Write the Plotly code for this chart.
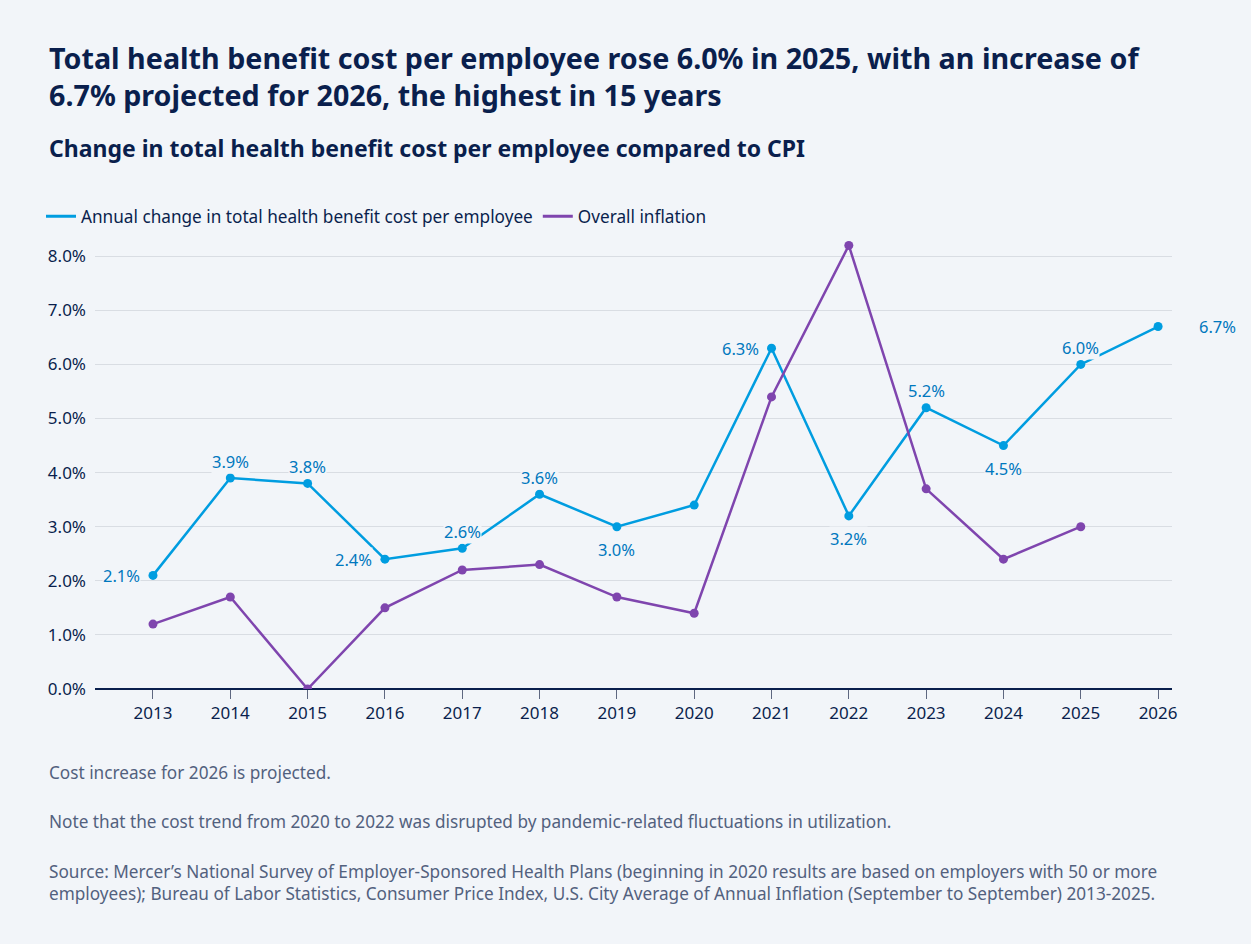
import plotly.graph_objects as go

years = [str(y) for y in range(2013, 2027)]
health_cost = [2.1, 3.9, 3.8, 2.4, 2.6, 3.6, 3.0, 3.4, 6.3, 3.2, 5.2, 4.5, 6.0, 6.7]
inflation = [1.2, 1.7, 0.0, 1.5, 2.2, 2.3, 1.7, 1.4, 5.4, 8.2, 3.7, 2.4, 3.0]
y_ticks = [0, 1, 2, 3, 4, 5, 6, 7, 8]

# where each cost label sits relative to its point (None = no label)
label_side = ["left", "top", "top", "left", "top", "top", "bottom", None,
              "left", "bottom", "top", "bottom", "top", "right"]

BG = "#F2F5F9"
NAVY = "#0A1F4D"
BLUE = "#009DE0"
BLUE_TEXT = "#0078BE"
PURPLE = "#7F45AE"
NOTE = "#52617E"
FONT = "Noto Sans"

fig = go.Figure()
fig.add_trace(go.Scatter(
    x=years, y=health_cost, mode="lines+markers", showlegend=False,
    line=dict(color=BLUE, width=2.5), marker=dict(size=9, color=BLUE),
))
fig.add_trace(go.Scatter(
    x=years[:len(inflation)], y=inflation, mode="lines+markers", showlegend=False,
    line=dict(color=PURPLE, width=2.5), marker=dict(size=9, color=PURPLE),
))
# legend entries show only a line swatch
for name, color in [("Annual change in total health benefit cost per employee", BLUE),
                    ("Overall inflation", PURPLE)]:
    fig.add_trace(go.Scatter(x=[None], y=[None], mode="lines", name=name,
                             line=dict(color=color, width=3)))

# (xanchor, xshift, yshift)
shifts = {"left": ("right", -12, 0), "right": ("left", 40, 0),
          "top": ("center", 0, 17), "bottom": ("center", 0, -23)}
for i, (val, side) in enumerate(zip(health_cost, label_side)):
    if side is None:
        continue
    anchor, dx, dy = shifts[side]
    fig.add_annotation(
        x=i, y=val, text=f"{val:.1f}%", showarrow=False,
        xanchor=anchor, xshift=dx, yshift=dy, bgcolor=BG, borderpad=0,
        font=dict(family=FONT, size=16.5, color=BLUE_TEXT),
    )

notes = [
    (772, "Cost increase for 2026 is projected."),
    (821, "Note that the cost trend from 2020 to 2022 was disrupted by pandemic-related fluctuations in utilization."),
    (882, "Source: Mercer\u2019s National Survey of Employer-Sponsored Health Plans (beginning in 2020 results are based on employers with 50 or more<br>"
          "employees); Bureau of Labor Statistics, Consumer Price Index, U.S. City Average of Annual Inflation (September to September) 2013-2025."),
]
for ypix, txt in notes:
    fig.add_annotation(
        xref="paper", yref="paper", x=-48 / 1077, y=(944 - ypix - 255) / 449,
        xanchor="left", yanchor="middle", align="left", showarrow=False,
        text=txt, font=dict(family=FONT, size=17.2, color=NOTE),
    )

fig.add_annotation(
    xref="paper", yref="paper", x=-48 / 1077, y=(944 - 76 - 255) / 449,
    xanchor="left", yanchor="middle", align="left", showarrow=False,
    text="<b>Total health benefit cost per employee rose 6.0% in 2025, with an increase of<br>"
         "6.7% projected for 2026, the highest in 15 years</b>",
    font=dict(family=FONT, size=28.7, color=NAVY),
)
fig.add_annotation(
    xref="paper", yref="paper", x=-48 / 1077, y=(944 - 148 - 255) / 449,
    xanchor="left", yanchor="middle", align="left", showarrow=False,
    text="<b>Change in total health benefit cost per employee compared to CPI</b>",
    font=dict(family=FONT, size=23, color=NAVY),
)

fig.update_layout(
    width=1251, height=944,
    paper_bgcolor=BG, plot_bgcolor=BG,
    margin=dict(l=95, r=79, t=240, b=255),
    font=dict(family=FONT, size=17, color=NAVY),
    showlegend=True,
    legend=dict(
        orientation="h", x=-54 / 1077, y=1.052, xanchor="left", yanchor="middle",
        font=dict(family=FONT, size=17.2, color=NAVY), itemwidth=30,
        bgcolor="rgba(0,0,0,0)",
    ),
    xaxis=dict(
        type="category", range=[-0.75, 13.18], showgrid=False,
        ticks="outside", ticklen=9, tickcolor="#5E6780",
        showline=False, tickfont=dict(size=17, color=NAVY),
    ),
    yaxis=dict(
        range=[0, 8.3], tickvals=y_ticks,
        ticktext=[f"{v:.1f}%" for v in y_ticks],
        gridcolor="#D9DDE3", gridwidth=1.3, zeroline=True,
        zerolinecolor=NAVY, zerolinewidth=1.5,
        tickfont=dict(size=17, color=NAVY), ticks="", ticklabelstandoff=8,
    ),
)

fig.write_html("out.html", config={"displayModeBar": False},
               post_script="document.body.style.margin='0';")
